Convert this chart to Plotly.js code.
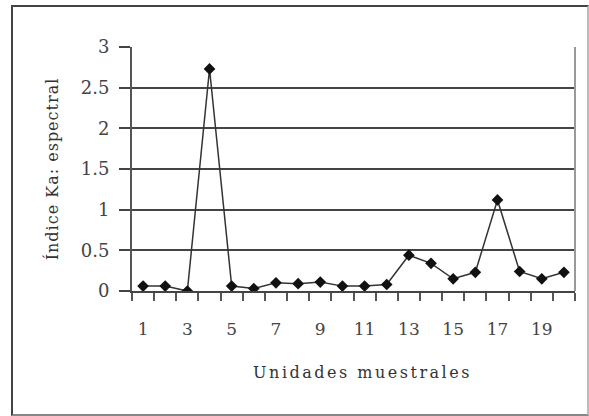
<!DOCTYPE html>
<html><head><meta charset="utf-8">
<script src="https://cdn.plot.ly/plotly-3.0.1.min.js"></script>
<style>
html,body{margin:0;padding:0;background:#fff;}
#wrap{position:relative;width:589px;height:416px;}
#chart{width:589px;height:416px;}
#frame{position:absolute;left:11px;top:5px;width:574px;height:407px;border-top:2px solid #444;border-left:2px solid #444;border-right:2px solid #bbb;border-bottom:2px solid #888;pointer-events:none;}
.g-ytitle text{letter-spacing:1px;}
.g-xtitle text{letter-spacing:2.5px;transform:translateX(9px);}
</style></head>
<body><div id="wrap"><div id="chart"></div><div id="frame"></div></div>
<script>
const units = [1,2,3,4,5,6,7,8,9,10,11,12,13,14,15,16,17,18,19,20];
const kaValues = [0.06,0.06,0.0,2.73,0.06,0.03,0.10,0.09,0.11,0.06,0.06,0.08,0.44,0.34,0.15,0.23,1.12,0.24,0.15,0.23];
const xTickLabels = ['1','3','5','7','9','11','13','15','17','19'];
const xTickVals = [1,3,5,7,9,11,13,15,17,19];
const yTicks = [0,0.5,1,1.5,2,2.5,3];
const yTickText = ['0','0.5','1','1.5','2','2.5','3'];
const boundaries = units.map(u=>u-0.5).concat([20.5]);

const font = 'DejaVu Serif, Liberation Serif, serif';
Plotly.newPlot('chart', [{
  x: units, y: kaValues, type:'scatter', mode:'lines+markers',
  line:{color:'#333', width:1.5},
  marker:{symbol:'diamond', size:9, color:'#111'}
}], {
  width:589, height:416,
  margin:{l:132, r:14, t:47, b:125},
  paper_bgcolor:'#fff', plot_bgcolor:'#fff',
  showlegend:false,
  font:{family:font, color:'#444'},
  xaxis:{
    range:[0.5,20.5], tickmode:'array', tickvals:xTickVals, ticktext:xTickLabels,
    ticks:'', showgrid:false, zeroline:false,
    showline:true, linecolor:'#444', linewidth:2,
    tickfont:{size:17, family:font, color:'#444'}, ticklabelstandoff:22,
    minor:{tickmode:'array', tickvals:boundaries, ticks:'outside', ticklen:8, tickcolor:'#555', tickwidth:2, showgrid:false},
    title:{text:'Unidades muestrales', font:{size:16, family:font, color:'#333'}, standoff:28}
  },
  yaxis:{
    range:[0,3], tickmode:'array', tickvals:yTicks, ticktext:yTickText,
    ticks:'outside', ticklen:11, tickcolor:'#444', tickwidth:2,
    showgrid:true, gridcolor:'#444', gridwidth:2, zeroline:false,
    showline:true, linecolor:'#555', linewidth:2,
    tickfont:{size:18, family:font, color:'#444'}, ticklabelstandoff:6,
    title:{text:'Índice Ka: espectral', font:{size:16, family:font, color:'#333'}, standoff:18}
  },
  shapes:[{type:'line', xref:'paper', yref:'paper', x0:1, x1:1, y0:0, y1:1, line:{color:'#999', width:2}}]
}, {staticPlot:true, displayModeBar:false});
</script></body></html>
